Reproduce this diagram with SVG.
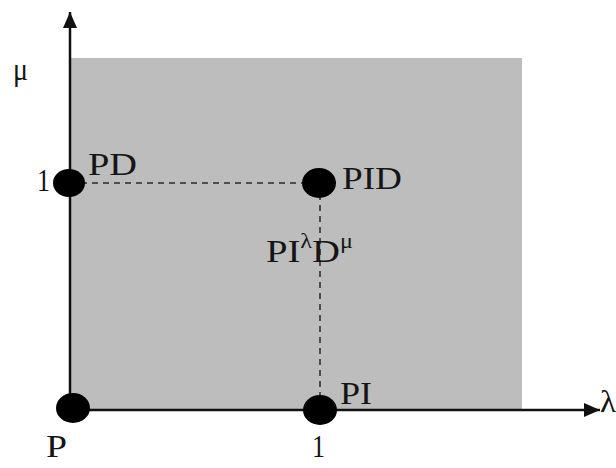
<svg xmlns="http://www.w3.org/2000/svg" width="616" height="468" viewBox="0 0 616 468">
<style>
.t{font-family:"Liberation Serif","Times New Roman",serif;font-size:32px;fill:#151515}
.s{font-size:20px}
.ax{stroke:#111;stroke-width:2.5;fill:none}
.dash{stroke:#2a2a2a;stroke-width:1.5;stroke-dasharray:6,5;fill:none}
.dot{fill:#000}
</style>
<defs>
<marker id="ah" viewBox="0 0 16 16" refX="16" refY="8" markerWidth="16" markerHeight="16" markerUnits="userSpaceOnUse" orient="auto">
<path d="M0,1 L16,8 L0,15 z" fill="#111"/>
</marker>
</defs>
<rect x="71" y="58" width="451" height="352" fill="#bdbdbd"/>
<g id="connectors">
<line class="ax" x1="70" y1="410" x2="70" y2="12" marker-end="url(#ah)"/>
<line class="ax" x1="70" y1="410" x2="600" y2="410" marker-end="url(#ah)"/>
<line class="dash" x1="70" y1="183" x2="318" y2="183"/>
<line class="dash" x1="320" y1="183" x2="320" y2="410"/>
</g>
<text class="t" x="13" y="80" textLength="15" lengthAdjust="spacingAndGlyphs">μ</text>
<text class="t" x="600" y="412" textLength="16" lengthAdjust="spacingAndGlyphs">λ</text>
<g id="P"><ellipse class="dot" cx="73" cy="408" rx="17" ry="15"/><text class="t" x="46" y="457" textLength="21" lengthAdjust="spacingAndGlyphs">P</text></g>
<g id="PD"><ellipse class="dot" cx="69" cy="183" rx="16" ry="14"/><text class="t" x="88" y="175" textLength="49" lengthAdjust="spacingAndGlyphs">PD</text><text class="t" x="37" y="191" textLength="13" lengthAdjust="spacingAndGlyphs">1</text></g>
<g id="PID"><ellipse class="dot" cx="319" cy="183" rx="17" ry="15"/><text class="t" x="342" y="189" textLength="60" lengthAdjust="spacingAndGlyphs">PID</text></g>
<g id="PI"><ellipse class="dot" cx="320" cy="410" rx="17" ry="15"/><text class="t" x="340" y="404" textLength="32" lengthAdjust="spacingAndGlyphs">PI</text><text class="t" x="312" y="457" textLength="13" lengthAdjust="spacingAndGlyphs">1</text></g>
<text class="t" x="266" y="262" font-size="34" textLength="87" lengthAdjust="spacingAndGlyphs">PI<tspan class="s" dy="-14">λ</tspan><tspan dy="14">D</tspan><tspan class="s" dy="-14">μ</tspan></text>
</svg>
